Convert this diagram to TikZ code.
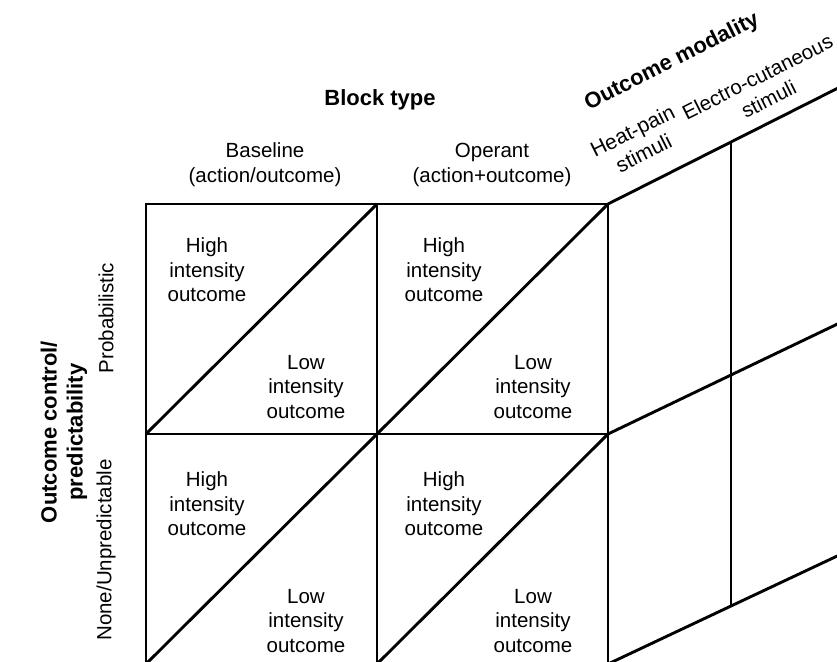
\documentclass[tikz,border=0pt]{standalone}
\usepackage{fontspec}
\setmainfont{Liberation Sans}
\begin{document}
\begin{tikzpicture}[x=1pt,y=-1pt,
  gridline/.style={line width=2.9pt,line cap=butt,line join=miter},
  celltext/.style={font=\fontsize{20.5}{24.5}\selectfont,align=center,inner sep=0pt},
  headtext/.style={font=\fontsize{20.5}{25}\selectfont,align=center,inner sep=0pt},
  boldtext/.style={font=\fontsize{22}{26}\selectfont\bfseries,align=center,inner sep=0pt}]
\useasboundingbox (0,0) rectangle (837,661);
\clip (0,0) rectangle (837,661);

% corners of the 2x2 grid
\coordinate (a1) at (146,204); \coordinate (a2) at (377,204); \coordinate (a3) at (608,204);
\coordinate (b1) at (146,434); \coordinate (b2) at (377,434); \coordinate (b3) at (608,434);
\coordinate (c1) at (146,664); \coordinate (c2) at (377,664); \coordinate (c3) at (608,664);

% slanted side panel
\coordinate (ta) at (731,142); \coordinate (te) at (850,82);
\coordinate (ma) at (731,375); \coordinate (me) at (850,318);
\coordinate (ba) at (731,606); \coordinate (be) at (850,550);

% grid
\draw[gridline] (a1) -- (a3) -- (c3) -- (c1) -- cycle;
\draw[gridline] (a2) -- (c2);
\draw[gridline] (b1) -- (b3);
% diagonals
\draw[gridline] (b1) -- (a2);
\draw[gridline] (b2) -- (a3);
\draw[gridline] (c1) -- (b2);
\draw[gridline] (c2) -- (b3);

% side panel
\draw[gridline] (a3) -- (ta) -- (te);
\draw[gridline] (b3) -- (ma) -- (me);
\draw[gridline] (c3) -- (ba) -- (be);
\draw[gridline] (ta) -- (ba);

% headers
\node[boldtext] (blocktype) at (380,100) {Block type};
\node[headtext] (baseline) at (265,165) {Baseline\\(action/outcome)};
\node[headtext] (operant) at (492,165) {Operant\\(action+outcome)};
\node[boldtext,rotate=26.6] (modality) at (672,62) {Outcome modality};
\node[headtext,font=\fontsize{21}{25}\selectfont,rotate=26.6] (heat) at (638,142) {Heat-pain\\stimuli};
\node[headtext,rotate=26.6] (electro) at (763,88) {Electro-cutaneous\\stimuli};

% row labels
\node[boldtext,rotate=90] (control) at (64,432) {Outcome control/\\predictability};
\node[headtext,rotate=90] (prob) at (106,318) {Probabilistic};
\node[headtext,rotate=90] (none) at (106,550) {None/Unpredictable};

% cell contents
\node[celltext] (h11) at (207,270) {High\\intensity\\outcome};
\node[celltext] (l11) at (306,387) {Low\\intensity\\outcome};
\node[celltext] (h12) at (444,270) {High\\intensity\\outcome};
\node[celltext] (l12) at (533,387) {Low\\intensity\\outcome};
\node[celltext] (h21) at (207,504) {High\\intensity\\outcome};
\node[celltext] (l21) at (306,621) {Low\\intensity\\outcome};
\node[celltext] (h22) at (444,504) {High\\intensity\\outcome};
\node[celltext] (l22) at (533,621) {Low\\intensity\\outcome};
\end{tikzpicture}
\end{document}
